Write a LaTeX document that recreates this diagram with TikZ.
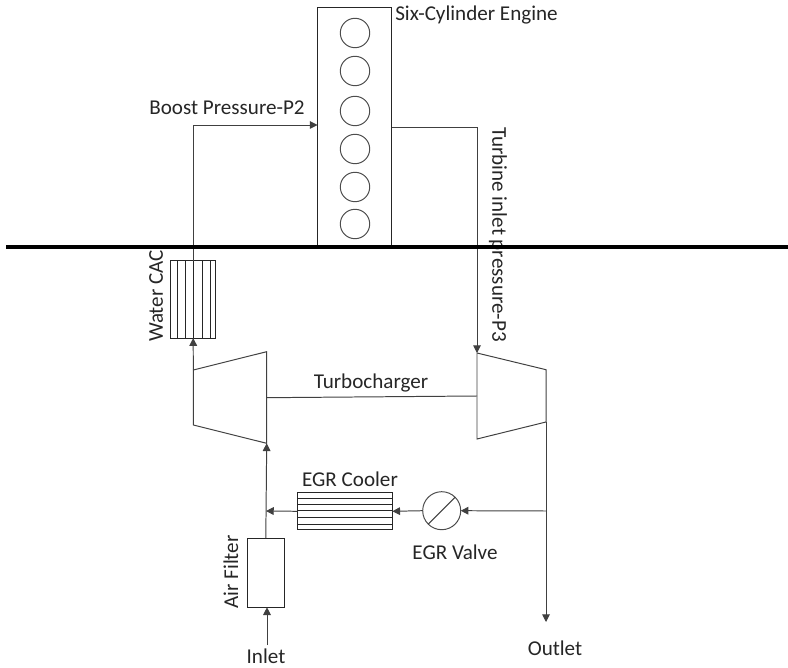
\documentclass[tikz,border=0pt]{standalone}
\usepackage{fontspec}
\setmainfont{Carlito}
\usetikzlibrary{arrows.meta}
\tikzset{
    >={Triangle[length=5.5pt,width=5.5pt]},
    conn/.style={line width=0.7pt, draw=black!75},
    unit/.style={draw=black!85, line width=0.7pt, inner sep=0pt, outer sep=0pt},
    cyl/.style={circle, draw=black!70, line width=0.7pt, minimum size=0.735cm, inner sep=0pt},
    lbl/.style={font=\fontsize{15pt}{17pt}\selectfont, text=black!85, inner sep=0pt},
}
\begin{document}
\begin{tikzpicture}[x=0.025cm, y=-0.025cm]
    \useasboundingbox (0,0) rectangle (788,668);
    % engine
    \node[unit, minimum width=1.84cm, minimum height=5.95cm] (engine) at (354.5,127) {};
    \foreach \n/\y in {1/33, 2/71, 3/111, 4/149, 5/187, 6/224}
        \node[cyl] (cyl\n) at (355,\y) {};
    % units
    \node[unit, minimum width=1.125cm, minimum height=1.93cm] (cac) at (193.2,299.5) {};
    \foreach \x in {177, 185, 193, 202, 210}
        \draw[unit] (\x,260.7) -- (\x,338);
    \node[unit, minimum width=0.925cm, minimum height=1.73cm] (filter) at (265.8,572.7) {};
    \node[unit, minimum width=2.375cm, minimum height=0.93cm] (cooler) at (344.8,511.3) {};
    \foreach \y in {498, 504.3, 510.7, 517.3, 524.7}
        \draw[unit] (297.3,\y) -- (392.3,\y);
    \node[circle, unit, draw=black!70, minimum size=0.95cm] (valve) at (441.7,510.7) {};
    \draw[conn] (valve.south west) -- (valve.north east);
    % compressor and turbine
    \coordinate (compA) at (193.3,370);
    \coordinate (compB) at (266.7,351.7);
    \coordinate (compC) at (266.7,443.3);
    \coordinate (compD) at (193.3,425);
    \coordinate (shaftL) at (266.7,397.7);
    \coordinate (turbA) at (477,353);
    \coordinate (turbB) at (546,369.7);
    \coordinate (turbC) at (546,422);
    \coordinate (turbD) at (477,439);
    \coordinate (shaftR) at (477,396);
    \draw[conn] (compA) -- (compB) -- (compC) -- (compD) -- cycle;
    \draw[conn] (turbA) -- (turbB) -- (turbC) -- (turbD) -- cycle;
    \draw[conn] (shaftL) -- (shaftR);
    % flow lines
    \coordinate (boostIn) at (317.5,125);
    \coordinate (exhOut) at (391.5,127);
    \coordinate (outletEnd) at (546,622);
    \coordinate (egrTap) at (546,511);
    \coordinate (egrJoin) at (266,511);
    \coordinate (inletEnd) at (267,645);
    \draw[conn, ->] (compA) -- (cac.south);
    \draw[conn, ->] (cac.north) |- (boostIn);
    \draw[conn, ->] (exhOut) -| (turbA);
    \draw[conn, ->] (turbC) -- (outletEnd);
    \draw[conn, ->] (egrTap) -- (valve.east);
    \draw[conn, ->] (valve.west) -- (cooler.east);
    \draw[conn, ->] (cooler.west) -- (egrJoin);
    \draw[conn, ->] (filter.north) -- (compC);
    \draw[conn, ->] (inletEnd) -- (filter.south -| inletEnd);
    % labels
    \node[lbl, anchor=west] (engineLbl) at (395,15) {Six-Cylinder Engine};
    \node[lbl] (boostLbl) at (227,108) {Boost Pressure-P2};
    \node[lbl, rotate=-90, anchor=west] (p3Lbl) at (498,127) {Turbine inlet pressure-P3};
    \node[lbl, rotate=90] (cacLbl) at (156,296) {Water CAC};
    \node[lbl] (turboLbl) at (371,383) {Turbocharger};
    \node[lbl] (coolerLbl) at (350,479) {EGR Cooler};
    \node[lbl] (valveLbl) at (455,552) {EGR Valve};
    \node[lbl, rotate=90] (filterLbl) at (231,572) {Air Filter};
    \node[lbl] (inletLbl) at (266,656) {Inlet};
    \node[lbl] (outletLbl) at (555,648) {Outlet};
    % bold line
    \coordinate (wallL) at (6,247);
    \coordinate (wallR) at (788,247);
    \draw[line width=3pt, black] (wallL) -- (wallR);
\end{tikzpicture}
\end{document}
